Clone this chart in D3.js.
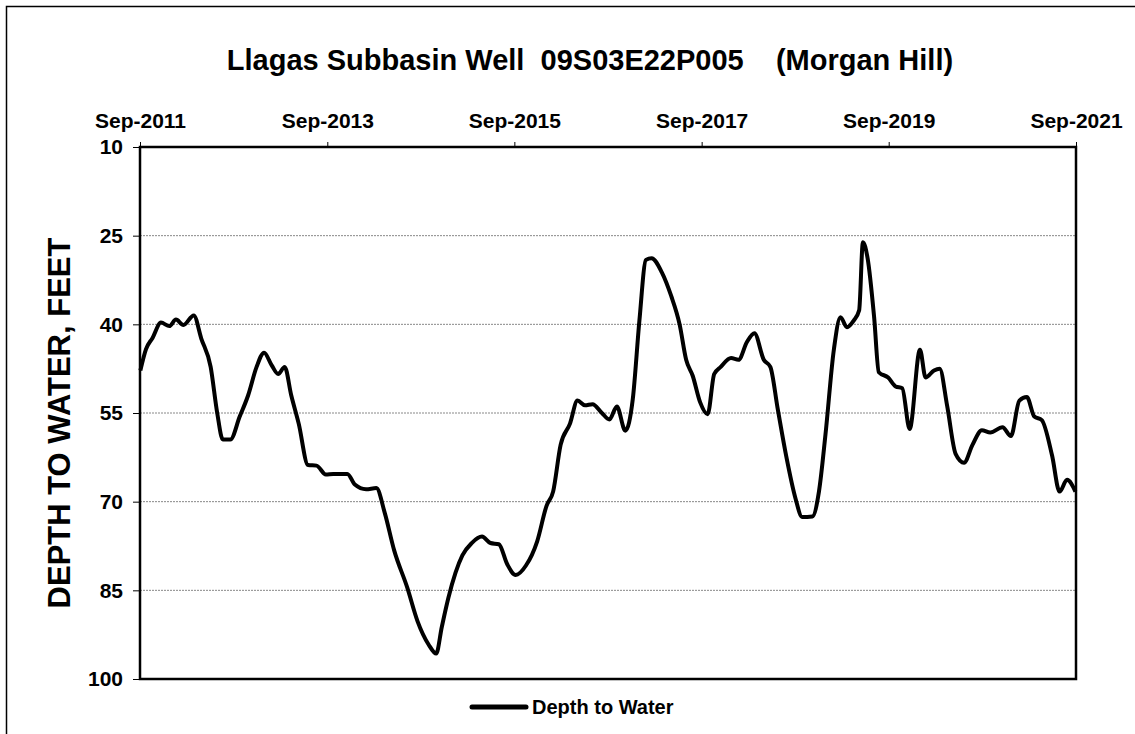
<!DOCTYPE html>
<html>
<head>
<meta charset="utf-8">
<script src="https://cdn.jsdelivr.net/npm/d3@7"></script>
<style>
  body { margin: 0; background: #fff; }
  text { font-family: "Liberation Sans", Arial, sans-serif; font-weight: bold; fill: #000; }
</style>
</head>
<body>
<div id="chart"></div>
<script>
// measurement dates as decimal years, depth in feet
var years = [2011.67, 2011.73, 2011.80, 2011.89, 2011.98, 2012.05, 2012.13, 2012.24, 2012.32, 2012.42,
  2012.49, 2012.55, 2012.63, 2012.73, 2012.82, 2012.91, 2012.99, 2013.07, 2013.14, 2013.21,
  2013.28, 2013.36, 2013.46, 2013.55, 2013.65, 2013.73, 2013.88, 2013.96, 2014.08, 2014.19,
  2014.28, 2014.38, 2014.52, 2014.63, 2014.75, 2014.83, 2014.89, 2014.96, 2015.11, 2015.21,
  2015.32, 2015.41, 2015.50, 2015.59, 2015.68, 2015.79, 2015.91, 2016.01, 2016.08, 2016.16,
  2016.26, 2016.34, 2016.42, 2016.50, 2016.60, 2016.68, 2016.76, 2016.85, 2016.93, 2017.00,
  2017.07, 2017.13, 2017.24, 2017.34, 2017.43, 2017.50, 2017.57, 2017.65, 2017.73, 2017.80,
  2017.87, 2017.98, 2018.06, 2018.15, 2018.23, 2018.33, 2018.40, 2018.48, 2018.57, 2018.67,
  2018.74, 2018.85, 2018.92, 2018.99, 2019.08, 2019.15, 2019.22, 2019.29, 2019.35, 2019.39,
  2019.44, 2019.51, 2019.56, 2019.66, 2019.74, 2019.81, 2019.89, 2020.00, 2020.06, 2020.15,
  2020.21, 2020.29, 2020.38, 2020.47, 2020.56, 2020.66, 2020.75, 2020.88, 2020.97, 2021.06,
  2021.14, 2021.22, 2021.30, 2021.41, 2021.49, 2021.57, 2021.66];

var depth = [47.8, 44.2, 42.3, 39.7, 40.3, 39.2, 40.1, 38.5, 42.4, 47.2,
  55.0, 59.5, 59.5, 55.6, 52.0, 47.2, 44.8, 46.9, 48.4, 47.2,
  52.0, 56.8, 63.8, 63.9, 65.4, 65.3, 65.3, 67.1, 67.9, 67.7,
  71.9, 78.2, 84.5, 90.2, 94.2, 95.7, 91.2, 86.3, 79.1, 77.0,
  75.9, 77.0, 77.2, 80.6, 82.4, 80.8, 76.7, 70.7, 68.3, 60.4,
  56.8, 52.9, 53.7, 53.5, 55.0, 56.1, 53.9, 58.0, 52.6, 39.4,
  29.1, 28.8, 31.2, 35.2, 40.0, 46.0, 48.7, 53.2, 55.2, 48.4,
  47.2, 45.7, 46.0, 43.0, 41.5, 46.0, 47.2, 54.4, 62.3, 69.5,
  72.6, 72.5, 68.3, 58.6, 44.2, 38.8, 40.5, 39.4, 37.6, 26.1,
  28.8, 38.8, 48.1, 49.0, 50.5, 50.8, 57.7, 44.3, 49.0, 47.8,
  47.5, 53.8, 61.9, 63.4, 60.4, 57.9, 58.3, 57.4, 58.9, 52.9,
  52.3, 55.6, 56.2, 62.2, 68.3, 66.3, 68.3];

var xTickDates = ["2011-09-01", "2013-09-01", "2015-09-01", "2017-09-01", "2019-09-01", "2021-09-01"];
var yTicks = [10, 25, 40, 55, 70, 85, 100];

var W = 1135, H = 734;
var margin = { top: 147, right: 59, bottom: 55, left: 140 };
var width = W - margin.left - margin.right,
    height = H - margin.top - margin.bottom;

function toDate(y) {
  var yr = Math.floor(y);
  var a = new Date(yr, 0, 1), b = new Date(yr + 1, 0, 1);
  return new Date(+a + (y - yr) * (b - a));
}

var data = years.map(function(y, i) { return { date: toDate(y), value: depth[i] }; });
var tickDates = xTickDates.map(function(s) { return d3.timeParse("%Y-%m-%d")(s); });

var svg = d3.select("#chart").append("svg")
  .attr("width", W)
  .attr("height", H);

// outer chart border (right and bottom fall outside the picture)
svg.append("rect")
  .attr("x", 6.5).attr("y", 6.5)
  .attr("width", W + 10).attr("height", H + 10)
  .attr("fill", "none").attr("stroke", "#000").attr("stroke-width", 1.5);

svg.append("text")
  .attr("x", 590).attr("y", 70)
  .attr("text-anchor", "middle")
  .style("font-size", "29px")
  .style("white-space", "pre")
  .text("Llagas Subbasin Well  09S03E22P005    (Morgan Hill)");

var g = svg.append("g")
  .attr("transform", "translate(" + margin.left + "," + margin.top + ")");

var x = d3.scaleTime()
  .domain([tickDates[0], tickDates[tickDates.length - 1]])
  .range([0, width]);

var y = d3.scaleLinear()
  .domain([10, 100])
  .range([0, height]);

// gridlines
g.selectAll(".grid")
  .data(yTicks.slice(1, -1))
  .enter().append("line")
  .attr("x1", 0).attr("x2", width)
  .attr("y1", function(d) { return y(d); })
  .attr("y2", function(d) { return y(d); })
  .attr("stroke", "#888")
  .attr("stroke-width", 1)
  .attr("stroke-dasharray", "2,1");

// top axis with dates
var xAxis = g.append("g")
  .call(d3.axisTop(x).tickValues(tickDates).tickSize(5).tickPadding(14)
    .tickFormat(d3.timeFormat("%b-%Y")));
xAxis.selectAll("text").style("font-size", "21px");

var yAxis = g.append("g")
  .call(d3.axisLeft(y).tickValues(yTicks).tickSize(7).tickPadding(10));
yAxis.selectAll("text").style("font-size", "21px");

g.selectAll(".domain").remove();
g.selectAll(".tick line").attr("stroke", "#000").attr("stroke-width", 1);

// plot frame
g.append("rect")
  .attr("width", width).attr("height", height)
  .attr("fill", "none").attr("stroke", "#000").attr("stroke-width", 2.5);

var line = d3.line()
  .x(function(d) { return x(d.date); })
  .y(function(d) { return y(d.value); })
  .curve(d3.curveMonotoneX);

g.append("path")
  .datum(data)
  .attr("fill", "none")
  .attr("stroke", "#000")
  .attr("stroke-width", 4)
  .attr("stroke-linejoin", "round")
  .attr("d", line);

svg.append("text")
  .attr("transform", "translate(70,423) rotate(-90)")
  .attr("text-anchor", "middle")
  .style("font-size", "31px")
  .text("DEPTH TO WATER, FEET");

// legend
var legend = svg.append("g").attr("transform", "translate(472,707)");
legend.append("line")
  .attr("x1", 0).attr("x2", 54)
  .attr("stroke", "#000").attr("stroke-width", 5).attr("stroke-linecap", "round");
legend.append("text")
  .attr("x", 60).attr("y", 7)
  .style("font-size", "20px")
  .text("Depth to Water");
</script>
</body>
</html>
